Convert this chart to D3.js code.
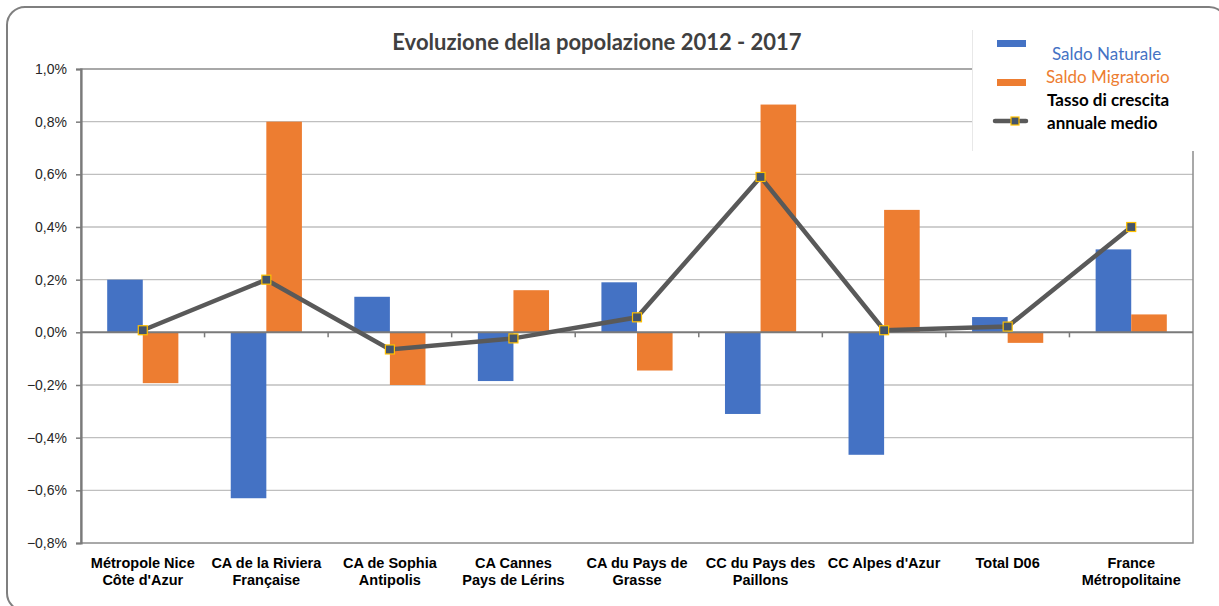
<!DOCTYPE html>
<html>
  <head>
    <meta charset="UTF-8" />
    <style>
      body { margin: 0; background: #ffffff; }
      svg { display: block; }
    </style>
  </head>
  <body>
    <svg id="chart"></svg>
    <script src="https://d3js.org/d3.v7.min.js"></script>
    <script>
      // values in percent
      const categories = [
        ["Métropole Nice", "Côte d'Azur"],
        ["CA de la Riviera", "Française"],
        ["CA de Sophia", "Antipolis"],
        ["CA Cannes", "Pays de Lérins"],
        ["CA du Pays de", "Grasse"],
        ["CC du Pays des", "Paillons"],
        ["CC Alpes d'Azur"],
        ["Total D06"],
        ["France", "Métropolitaine"]
      ];
      const saldoNaturale = [0.20, -0.63, 0.135, -0.185, 0.19, -0.31, -0.465, 0.058, 0.315];
      const saldoMigratorio = [-0.193, 0.80, -0.20, 0.16, -0.145, 0.865, 0.465, -0.04, 0.068];
      const tassoCrescita = [0.008, 0.20, -0.065, -0.023, 0.057, 0.59, 0.008, 0.022, 0.40];
      const yTicks = [1.0, 0.8, 0.6, 0.4, 0.2, 0, -0.2, -0.4, -0.6, -0.8];

      const width = 1219, height = 606;
      const plotL = 81, plotR = 1193, plotT = 69, plotB = 543;

      const svg = d3.select("#chart").attr("width", width).attr("height", height);

      // outer rounded frame
      svg.append("rect")
        .attr("x", 7).attr("y", 7)
        .attr("width", 1220).attr("height", 604)
        .attr("rx", 18).attr("ry", 18)
        .attr("fill", "white")
        .attr("stroke", "#7f7f7f")
        .attr("stroke-width", 2);

      const x = d3.scaleBand()
        .domain(d3.range(categories.length))
        .range([plotL, plotR])
        .padding(0);

      const y = d3.scaleLinear().domain([-0.8, 1.0]).range([plotB, plotT]);

      // gridlines
      svg.append("g")
        .selectAll("line")
        .data(yTicks.filter(d => d !== 0 && d !== 1.0 && d !== -0.8))
        .join("line")
        .attr("x1", plotL).attr("x2", plotR)
        .attr("y1", d => y(d)).attr("y2", d => y(d))
        .attr("stroke", "#bfbfbf")
        .attr("stroke-width", 1.3);

      // plot frame
      svg.append("rect")
        .attr("x", plotL).attr("y", plotT)
        .attr("width", plotR - plotL).attr("height", plotB - plotT)
        .attr("fill", "none")
        .attr("stroke", "#8c8c8c")
        .attr("stroke-width", 1.5);

      // y axis
      const yAxis = svg.append("g")
        .attr("transform", `translate(${plotL},0)`)
        .call(d3.axisLeft(y).tickValues(yTicks).tickSize(5).tickPadding(9)
          .tickFormat(d => d3.format(".1f")(d).replace(".", ",") + "%"));
      yAxis.select(".domain").attr("stroke", "#7a7a7a").attr("stroke-width", 2.2);
      yAxis.selectAll(".tick line").attr("stroke", "#7a7a7a").attr("stroke-width", 1.5);
      yAxis.selectAll(".tick text")
        .attr("font-family", "Liberation Sans, Arial, sans-serif")
        .attr("font-size", 14)
        .attr("fill", "#262626")
        .text(d => (d === 0 ? "0,0" : d3.format(".1f")(d).replace(".", ",")) + "%");

      const barW = x.bandwidth() * 0.288;

      // bars
      svg.append("g")
        .selectAll("rect")
        .data(saldoNaturale)
        .join("rect")
        .attr("x", (d, i) => x(i) + x.bandwidth() / 2 - barW)
        .attr("y", d => y(Math.max(0, d)))
        .attr("width", barW)
        .attr("height", d => Math.abs(y(d) - y(0)))
        .attr("fill", "#4472c4");

      svg.append("g")
        .selectAll("rect")
        .data(saldoMigratorio)
        .join("rect")
        .attr("x", (d, i) => x(i) + x.bandwidth() / 2)
        .attr("y", d => y(Math.max(0, d)))
        .attr("width", barW)
        .attr("height", d => Math.abs(y(d) - y(0)))
        .attr("fill", "#ed7d31");

      // zero axis with category ticks
      svg.append("line")
        .attr("x1", plotL).attr("x2", plotR)
        .attr("y1", y(0)).attr("y2", y(0))
        .attr("stroke", "#7a7a7a")
        .attr("stroke-width", 2);
      svg.append("g")
        .selectAll("line")
        .data(d3.range(1, categories.length))
        .join("line")
        .attr("x1", i => x(i)).attr("x2", i => x(i))
        .attr("y1", y(0)).attr("y2", y(0) + 5)
        .attr("stroke", "#7a7a7a")
        .attr("stroke-width", 1.5);

      // line
      const line = d3.line()
        .x((d, i) => x(i) + x.bandwidth() / 2)
        .y(d => y(d));
      svg.append("path")
        .datum(tassoCrescita)
        .attr("d", line)
        .attr("fill", "none")
        .attr("stroke", "#595959")
        .attr("stroke-width", 4.5);
      svg.append("g")
        .selectAll("rect")
        .data(tassoCrescita)
        .join("rect")
        .attr("x", (d, i) => x(i) + x.bandwidth() / 2 - 4.5)
        .attr("y", d => y(d) - 4.5)
        .attr("width", 9).attr("height", 9)
        .attr("fill", "#44546a")
        .attr("stroke", "#ffc000")
        .attr("stroke-width", 1.2);

      // category labels
      const catLabels = svg.append("g")
        .selectAll("text")
        .data(categories)
        .join("text")
        .attr("x", (d, i) => x(i) + x.bandwidth() / 2)
        .attr("y", 568)
        .attr("text-anchor", "middle")
        .attr("font-family", "Liberation Sans, Arial, sans-serif")
        .attr("font-weight", "bold")
        .attr("font-size", 14.5)
        .attr("fill", "#000");
      catLabels.selectAll("tspan")
        .data(d => d)
        .join("tspan")
        .attr("x", function () { return this.parentNode.getAttribute("x"); })
        .attr("dy", (d, i) => i === 0 ? 0 : 17)
        .text(d => d);

      // title
      svg.append("text")
        .attr("x", 597).attr("y", 50)
        .attr("text-anchor", "middle")
        .attr("font-family", "Lato, Open Sans, sans-serif")
        .attr("font-weight", "bold")
        .attr("font-size", 22)
        .attr("fill", "#404040")
        .text("Evoluzione della popolazione 2012 - 2017");

      // legend
      const legend = svg.append("g");
      legend.append("rect")
        .attr("x", 972).attr("y", 30)
        .attr("width", 228).attr("height", 121)
        .attr("fill", "white");
      legend.append("line")
        .attr("x1", 972.5).attr("x2", 972.5)
        .attr("y1", 30).attr("y2", 151)
        .attr("stroke", "#e8e8e8");
      legend.append("rect")
        .attr("x", 997).attr("y", 40).attr("width", 29).attr("height", 7)
        .attr("fill", "#4472c4");
      legend.append("rect")
        .attr("x", 997).attr("y", 79).attr("width", 29).attr("height", 7)
        .attr("fill", "#ed7d31");
      legend.append("line")
        .attr("x1", 995).attr("x2", 1026)
        .attr("y1", 121).attr("y2", 121)
        .attr("stroke", "#595959").attr("stroke-width", 4.5)
        .attr("stroke-linecap", "round");
      legend.append("rect")
        .attr("x", 1011).attr("y", 117).attr("width", 8).attr("height", 8)
        .attr("fill", "#44546a").attr("stroke", "#ffc000").attr("stroke-width", 1.2);

      const legendText = [
        { t: "Saldo Naturale", x: 1052, y: 60, c: "#4472c4", w: "normal" },
        { t: "Saldo Migratorio", x: 1046, y: 83, c: "#ed7d31", w: "normal" },
        { t: "Tasso di crescita", x: 1047, y: 106, c: "#000", w: "bold" },
        { t: "annuale medio", x: 1047, y: 129, c: "#000", w: "bold" }
      ];
      legend.selectAll("text.lt")
        .data(legendText)
        .join("text")
        .attr("class", "lt")
        .attr("x", d => d.x).attr("y", d => d.y)
        .attr("font-family", "Lato, Open Sans, sans-serif")
        .attr("font-size", 17)
        .attr("font-weight", d => d.w)
        .attr("fill", d => d.c)
        .text(d => d.t);
    </script>
  </body>
</html>
